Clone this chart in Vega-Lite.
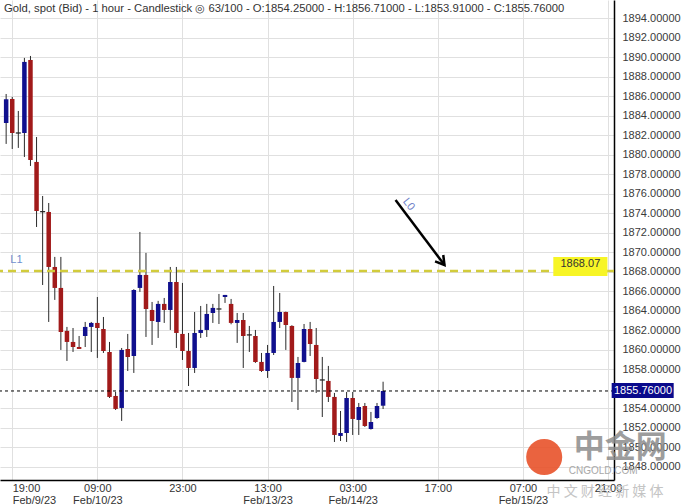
{
  "$schema": "https://vega.github.io/schema/vega-lite/v6.json",
  "width": 614,
  "height": 480,
  "autosize": {"type": "none"},
  "padding": {"left": 0, "top": 0, "right": 69, "bottom": 24},
  "background": "white",
  "config": {"view": {"stroke": null}, "font": "Liberation Sans"},
  "title": {
    "text": "Gold, spot (Bid) - 1 hour - Candlestick  ◎  63/100 - O:1854.25000 - H:1856.71000 - L:1853.91000 - C:1855.76000",
    "anchor": "start", "frame": "group", "orient": "top", "offset": -14, "dx": 4,
    "fontSize": 11.25, "fontWeight": "normal", "color": "#333333", "font": "Liberation Sans"
  },
  "datasets": {
    "one": [{}],
    "candles": [
      {"k":0,"o":1883.25,"h":1886.22,"l":1881.10,"c":1885.68},
      {"k":1,"o":1885.71,"h":1885.92,"l":1880.58,"c":1882.22},
      {"k":2,"o":1882.22,"h":1884.48,"l":1880.69,"c":1882.22},
      {"k":3,"o":1882.22,"h":1889.92,"l":1879.76,"c":1889.51},
      {"k":4,"o":1889.71,"h":1890.12,"l":1878.84,"c":1879.45},
      {"k":5,"o":1879.25,"h":1881.81,"l":1872.58,"c":1874.22},
      {"k":6,"o":1874.15,"h":1875.76,"l":1866.63,"c":1874.15},
      {"k":7,"o":1874.12,"h":1875.04,"l":1862.84,"c":1868.48},
      {"k":8,"o":1868.48,"h":1869.51,"l":1865.10,"c":1866.33},
      {"k":9,"o":1866.33,"h":1869.51,"l":1859.97,"c":1861.81},
      {"k":10,"o":1861.92,"h":1862.33,"l":1858.84,"c":1860.79},
      {"k":11,"o":1860.79,"h":1862.22,"l":1859.76,"c":1860.27},
      {"k":12,"o":1860.27,"h":1861.40,"l":1860.07,"c":1860.07},
      {"k":13,"o":1861.40,"h":1862.84,"l":1860.27,"c":1862.33},
      {"k":14,"o":1862.33,"h":1862.84,"l":1859.76,"c":1862.74},
      {"k":15,"o":1862.74,"h":1865.40,"l":1859.15,"c":1862.22},
      {"k":16,"o":1862.12,"h":1863.35,"l":1859.66,"c":1859.86},
      {"k":17,"o":1859.76,"h":1860.79,"l":1855.04,"c":1855.15},
      {"k":18,"o":1855.25,"h":1855.66,"l":1853.81,"c":1853.92},
      {"k":19,"o":1854.02,"h":1860.17,"l":1852.69,"c":1859.97},
      {"k":20,"o":1860.07,"h":1861.61,"l":1857.81,"c":1859.25},
      {"k":21,"o":1859.35,"h":1866.20,"l":1857.61,"c":1866.12},
      {"k":22,"o":1866.33,"h":1872.07,"l":1865.92,"c":1867.66},
      {"k":23,"o":1867.66,"h":1869.92,"l":1861.30,"c":1864.17},
      {"k":24,"o":1864.07,"h":1864.89,"l":1860.48,"c":1862.94},
      {"k":25,"o":1862.84,"h":1865.00,"l":1861.20,"c":1864.69},
      {"k":26,"o":1864.69,"h":1865.30,"l":1862.74,"c":1864.07},
      {"k":27,"o":1864.07,"h":1868.48,"l":1862.02,"c":1866.94},
      {"k":28,"o":1866.94,"h":1868.48,"l":1860.17,"c":1861.71},
      {"k":29,"o":1861.61,"h":1866.84,"l":1858.94,"c":1859.86},
      {"k":30,"o":1859.86,"h":1861.71,"l":1856.27,"c":1858.12},
      {"k":31,"o":1858.12,"h":1863.86,"l":1857.61,"c":1861.71},
      {"k":32,"o":1861.71,"h":1864.48,"l":1861.20,"c":1862.02},
      {"k":33,"o":1862.02,"h":1864.69,"l":1861.30,"c":1863.66},
      {"k":34,"o":1863.76,"h":1864.69,"l":1862.74,"c":1864.28},
      {"k":35,"o":1864.17,"h":1865.71,"l":1862.63,"c":1864.17},
      {"k":36,"o":1865.40,"h":1865.61,"l":1864.79,"c":1865.61},
      {"k":37,"o":1864.69,"h":1865.20,"l":1862.60,"c":1862.74},
      {"k":38,"o":1862.74,"h":1863.76,"l":1860.69,"c":1863.04},
      {"k":39,"o":1863.04,"h":1863.76,"l":1858.12,"c":1861.40},
      {"k":40,"o":1861.51,"h":1862.43,"l":1859.76,"c":1861.51},
      {"k":41,"o":1861.40,"h":1862.02,"l":1858.64,"c":1858.74},
      {"k":42,"o":1858.74,"h":1859.66,"l":1857.71,"c":1857.81},
      {"k":43,"o":1857.81,"h":1860.48,"l":1857.10,"c":1859.66},
      {"k":44,"o":1859.66,"h":1866.53,"l":1859.45,"c":1862.84},
      {"k":45,"o":1862.84,"h":1865.81,"l":1862.22,"c":1863.86},
      {"k":46,"o":1863.86,"h":1863.90,"l":1859.97,"c":1862.53},
      {"k":47,"o":1862.43,"h":1862.50,"l":1854.63,"c":1857.10},
      {"k":48,"o":1857.10,"h":1859.25,"l":1853.81,"c":1858.63},
      {"k":49,"o":1858.74,"h":1862.63,"l":1858.70,"c":1862.12},
      {"k":50,"o":1862.12,"h":1862.84,"l":1859.35,"c":1860.58},
      {"k":51,"o":1860.48,"h":1862.22,"l":1855.56,"c":1856.99},
      {"k":52,"o":1856.89,"h":1859.25,"l":1853.09,"c":1856.89},
      {"k":53,"o":1856.79,"h":1858.33,"l":1854.63,"c":1855.15},
      {"k":54,"o":1855.15,"h":1855.56,"l":1850.53,"c":1851.25},
      {"k":55,"o":1851.15,"h":1853.71,"l":1850.63,"c":1851.45},
      {"k":56,"o":1851.45,"h":1855.66,"l":1850.53,"c":1855.04},
      {"k":57,"o":1855.04,"h":1855.66,"l":1851.25,"c":1852.89},
      {"k":58,"o":1852.79,"h":1854.53,"l":1851.25,"c":1854.12},
      {"k":59,"o":1854.22,"h":1854.53,"l":1852.07,"c":1852.17},
      {"k":60,"o":1851.86,"h":1853.61,"l":1851.80,"c":1852.58},
      {"k":61,"o":1852.99,"h":1854.53,"l":1852.90,"c":1854.22},
      {"k":62,"o":1854.25,"h":1856.71,"l":1853.91,"c":1855.76}
    ]
  },
  "encoding": {
    "x": {
      "type": "quantitative", "title": null,
      "scale": {"domain": [-0.19, 99.16], "nice": false, "zero": false},
      "axis": {
        "orient": "bottom", "values": [1, 15, 29, 43, 57, 71, 85, 99],
        "grid": true, "gridColor": "#e0e0e0", "gridWidth": 1,
        "ticks": false, "domain": true, "domainColor": "#000000", "domainWidth": 1.5,
        "labelFont": "Liberation Sans", "labelFontSize": 11, "labelColor": "#333333",
        "labelPadding": 2, "labelLineHeight": 12, "labelFlush": false,
        "labelAlign": {"condition": {"test": "datum.value < 5", "value": "left"}, "value": "center"},
        "labelExpr": "datum.value == 1 ? ['\u00a0\u00a019:00','Feb/9/23'] : datum.value == 15 ? ['09:00','Feb/10/23'] : datum.value == 29 ? '23:00' : datum.value == 43 ? ['13:00','Feb/13/23'] : datum.value == 57 ? ['03:00','Feb/14/23'] : datum.value == 71 ? '17:00' : datum.value == 85 ? ['07:00','Feb/15/23'] : '21:00'"
      }
    },
    "y": {
      "type": "quantitative", "title": null,
      "scale": {"domain": [1846.63, 1895.86], "nice": false, "zero": false},
      "axis": {
        "orient": "right",
        "values": [1848, 1850, 1852, 1854, 1858, 1860, 1862, 1864, 1866, 1868, 1870, 1872, 1874, 1876, 1878, 1880, 1882, 1884, 1886, 1888, 1890, 1892, 1894],
        "format": ".5f", "grid": true, "gridColor": "#e0e0e0", "gridWidth": 1,
        "ticks": false, "domain": true, "domainColor": "#000000", "domainWidth": 1.5,
        "labelFont": "Liberation Sans", "labelFontSize": 11, "labelColor": "#3a3a3a",
        "labelPadding": 8
      }
    }
  },
  "layer": [
    {
      "data": {"name": "candles"},
      "mark": {"type": "rule", "color": "#2a2a2a", "strokeWidth": 1},
      "encoding": {
        "x": {"field": "k"},
        "y": {"field": "l"},
        "y2": {"field": "h"}
      }
    },
    {
      "data": {"name": "candles"},
      "transform": [{"filter": "datum.o != datum.c"}],
      "mark": {"type": "bar", "size": 4.5},
      "encoding": {
        "x": {"field": "k"},
        "y": {"field": "o"},
        "y2": {"field": "c"},
        "color": {"condition": {"test": "datum.c > datum.o", "value": "#10108e"}, "value": "#a11a1a"}
      }
    },
    {
      "data": {"name": "candles"},
      "transform": [{"filter": "datum.o == datum.c"}],
      "mark": {"type": "point", "shape": "M -1 -0.25 L 1 -0.25 L 1 0.25 L -1 0.25 Z", "filled": true, "size": 25, "color": "#222222", "opacity": 1},
      "encoding": {
        "x": {"field": "k"},
        "y": {"field": "o"}
      }
    },
    {
      "data": {"name": "one"},
      "mark": {"type": "rule", "color": "#000000", "strokeWidth": 1, "strokeDash": [3, 3]},
      "encoding": {
        "y": {"datum": 1855.76}
      }
    },
    {
      "data": {"name": "one"},
      "mark": {"type": "rule", "color": "#d2cc3c", "strokeWidth": 2.5, "strokeDash": [8, 5]},
      "encoding": {
        "y": {"datum": 1868.07}
      }
    },
    {
      "data": {"name": "one"},
      "mark": {"type": "rect", "color": "#f7f526"},
      "encoding": {
        "x": {"datum": 90.0}, "x2": {"datum": 98.9},
        "y": {"datum": 1867.56}, "y2": {"datum": 1869.5}
      }
    },
    {
      "data": {"name": "one"},
      "mark": {"type": "text", "text": "1868.07", "fontSize": 11, "color": "#333333", "font": "Liberation Sans"},
      "encoding": {"x": {"datum": 94.45}, "y": {"datum": 1868.75}}
    },
    {
      "data": {"name": "one"},
      "mark": {"type": "rect", "color": "#0a0a8c"},
      "encoding": {
        "x": {"datum": 99.6}, "x2": {"datum": 109.8},
        "y": {"datum": 1855.04}, "y2": {"datum": 1856.58}
      }
    },
    {
      "data": {"name": "one"},
      "mark": {"type": "text", "text": "1855.76000", "fontSize": 11, "color": "#ffffff", "font": "Liberation Sans"},
      "encoding": {"x": {"datum": 104.75}, "y": {"datum": 1855.76}}
    },
    {
      "data": {"name": "one"},
      "mark": {"type": "text", "text": "L1", "fontSize": 11, "color": "#6f8fcf", "font": "Liberation Sans"},
      "encoding": {"x": {"datum": 1.7}, "y": {"datum": 1869.2}}
    },
    {
      "data": {"name": "one"},
      "mark": {"type": "text", "text": "L0", "fontSize": 11, "color": "#6f7fc8", "font": "Liberation Sans", "angle": 52},
      "encoding": {"x": {"datum": 66.2}, "y": {"datum": 1874.9}}
    },
    {
      "data": {"name": "one"},
      "mark": {"type": "rule", "color": "#000000", "strokeWidth": 2.5},
      "encoding": {
        "x": {"datum": 64.05}, "y": {"datum": 1875.35},
        "x2": {"datum": 72.1}, "y2": {"datum": 1868.68}
      }
    },
    {
      "data": {"name": "one"},
      "mark": {"type": "point", "shape": "M -0.6 -1 L 0 0 L 0.6 -1", "filled": false, "size": 300, "stroke": "#000000", "strokeWidth": 2.5, "angle": 322, "opacity": 1},
      "encoding": {"x": {"datum": 72.1}, "y": {"datum": 1868.68}}
    },
    {
      "data": {"name": "one"},
      "mark": {"type": "point", "shape": "circle", "filled": true, "size": 1300, "color": "#e8522a", "opacity": 0.9},
      "encoding": {"x": {"datum": 88.5}, "y": {"datum": 1848.99}}
    },
    {
      "data": {"name": "one"},
      "mark": {"type": "text", "text": "中金网", "fontSize": 31, "fontWeight": "bold", "color": "#8c8c8c", "opacity": 0.85, "font": "Noto Sans CJK SC"},
      "encoding": {"x": {"datum": 101.0}, "y": {"datum": 1849.9}}
    },
    {
      "data": {"name": "one"},
      "mark": {"type": "text", "text": "CNGOLD.COM", "fontSize": 10, "color": "#a8a8a8", "font": "Liberation Sans"},
      "encoding": {"x": {"datum": 98.2}, "y": {"datum": 1847.56}}
    },
    {
      "data": {"name": "one"},
      "mark": {"type": "text", "text": "中 文 财 经 新 媒 体", "fontSize": 14, "color": "#c4c4c4", "font": "Noto Sans CJK SC"},
      "encoding": {"x": {"datum": 98.5}, "y": {"datum": 1845.4}}
    }
  ]
}
